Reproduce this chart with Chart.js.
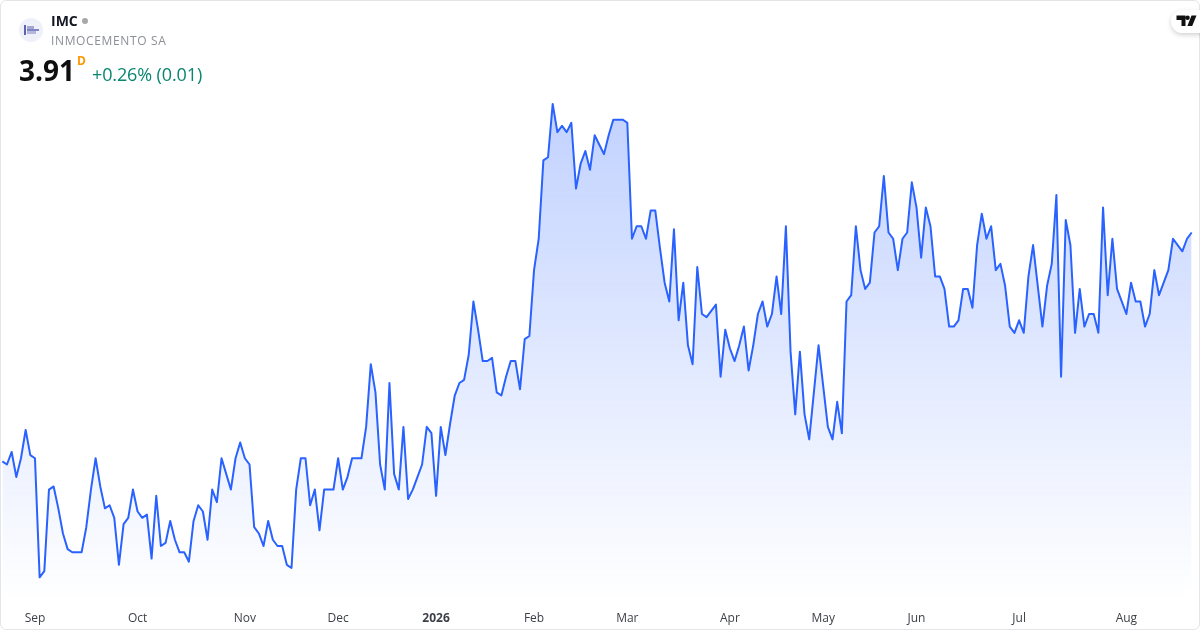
<!DOCTYPE html>
<html><head><meta charset="utf-8">
<script src="https://cdn.jsdelivr.net/npm/chart.js@4"></script>
<style>
html,body{margin:0;padding:0;background:#fff;width:1200px;height:630px;overflow:hidden;font-family:"Open Sans",sans-serif}
#wrap{position:absolute;left:0;top:0;width:1200px;height:630px}
canvas{position:absolute;left:0;top:0}
#frame{position:absolute;left:0;top:0;width:1198px;height:628px;border:1px solid #e4e5e8;border-radius:6px;pointer-events:none}
.t{position:absolute;white-space:nowrap;line-height:1}
#logo{position:absolute;left:19px;top:18px;width:24px;height:24px;border-radius:50%;background:#eef0fa}
#dot{position:absolute;left:82px;top:18px;width:6px;height:6px;border-radius:50%;background:#a8a8a8}
#tv{position:absolute;left:1171px;top:10px;width:40px;height:23px;border-radius:12px;background:#fff;box-shadow:0 2px 5px rgba(0,0,0,.18)}
</style></head><body>
<div id="wrap">
<canvas id="c" width="1200" height="630"></canvas>
<div id="frame"></div>
<div id="logo"><svg width="24" height="24"><rect x="5" y="7" width="2" height="10" fill="#5d63ad"/><rect x="8" y="8" width="7" height="4" fill="#a3a6d6"/><rect x="8" y="11" width="12" height="2" fill="#7f84c4"/><rect x="8" y="13" width="9" height="3" fill="#b5b8de"/></svg></div>
<div class="t" style="left:51px;top:14px;font-size:14px;font-weight:700;color:#131722">IMC</div>
<div id="dot"></div>
<div class="t" style="left:51px;top:35px;font-size:12px;color:#8c8f97;letter-spacing:.64px">INMOCEMENTO SA</div>
<div class="t" style="left:19px;top:56px;font-size:28px;font-weight:700;color:#0f0f0f">3.91</div>
<div class="t" style="left:77px;top:55px;font-size:12px;font-weight:700;color:#ff9800">D</div>
<div class="t" style="left:92px;top:65px;font-size:18px;letter-spacing:-.12px;color:#0a8670">+0.26% (0.01)</div>
<div id="tv"><svg width="40" height="23" style="position:absolute;left:0;top:0"><path d="M5.5 5.500h9v10.500h-4v-6h-5z M16.600 5.500a2.200 2.200 0 1 1 0 4.400 2.200 2.200 0 0 1 0-4.400z M20.500 5.500h5l-4.300 10.500h-4.800z" fill="#111"/></svg></div>
</div>
<script>
const tickLabels = ["Sep","Oct","Nov","Dec","2026","Feb","Mar","Apr","May","Jun","Jul","Aug"];
const tickIndexes = [7,29,52,72,93,114,134,156,176,196,218,241];
const closes = [
3.545,3.54,3.56,3.52,3.55,3.595,3.555,3.55,3.36,3.37,3.50,3.505,3.47,3.43,3.405,3.40,3.40,3.40,3.44,3.50,
3.55,3.505,3.47,3.475,3.455,3.38,3.445,3.455,3.50,3.465,3.455,3.46,3.39,3.49,3.41,3.415,3.45,3.42,3.40,3.40,
3.385,3.45,3.475,3.465,3.42,3.50,3.48,3.55,3.525,3.50,3.55,3.575,3.55,3.54,3.44,3.43,3.41,3.45,3.42,3.41,
3.41,3.38,3.375,3.50,3.55,3.55,3.475,3.50,3.435,3.50,3.50,3.50,3.55,3.50,3.52,3.55,3.55,3.55,3.60,3.70,
3.655,3.54,3.50,3.67,3.525,3.50,3.60,3.485,3.50,3.52,3.54,3.60,3.59,3.49,3.60,3.555,3.605,3.65,3.67,3.675,
3.715,3.80,3.755,3.705,3.705,3.71,3.655,3.65,3.68,3.705,3.705,3.66,3.74,3.745,3.85,3.90,4.025,4.03,4.115,4.07,
4.08,4.07,4.085,3.98,4.02,4.04,4.01,4.065,4.05,4.035,4.065,4.09,4.09,4.09,4.085,3.90,3.92,3.92,3.90,3.945,
3.945,3.885,3.83,3.80,3.915,3.77,3.83,3.73,3.70,3.855,3.78,3.775,3.785,3.795,3.68,3.755,3.725,3.705,3.73,3.76,
3.69,3.73,3.78,3.80,3.76,3.78,3.84,3.78,3.92,3.72,3.62,3.72,3.62,3.58,3.655,3.73,3.665,3.60,3.58,3.64,
3.59,3.80,3.81,3.92,3.85,3.82,3.83,3.91,3.92,4.00,3.91,3.90,3.85,3.90,3.91,3.99,3.95,3.87,3.95,3.92,
3.84,3.84,3.82,3.76,3.76,3.77,3.82,3.82,3.79,3.89,3.94,3.90,3.92,3.85,3.86,3.825,3.76,3.75,3.77,3.75,
3.84,3.89,3.825,3.76,3.825,3.86,3.97,3.68,3.93,3.89,3.75,3.82,3.76,3.78,3.78,3.75,3.95,3.81,3.90,3.82,
3.80,3.78,3.83,3.80,3.80,3.76,3.78,3.85,3.81,3.83,3.85,3.90,3.89,3.88,3.90,3.91
];
const categories = closes.map((_, i) => {
  const k = tickIndexes.indexOf(i);
  return k >= 0 ? tickLabels[k] : "";
});
const ctx = document.getElementById('c').getContext('2d');
const grad = ctx.createLinearGradient(0, 100, 0, 600);
grad.addColorStop(0, 'rgba(41,98,255,0.29)');
grad.addColorStop(1, 'rgba(41,98,255,0)');
new Chart(ctx, {
  type: 'line',
  data: { labels: categories, datasets: [{
    data: closes, borderColor: '#2962ff', borderWidth: 2, backgroundColor: grad,
    fill: 'start', pointRadius: 0, tension: 0, borderJoinStyle: 'round'
  }]},
  options: {
    responsive: false, animation: false, devicePixelRatio: 1,
    layout: { padding: { left: 2.33, right: 8.33, top: 0, bottom: 0 } },
    plugins: { legend: { display: false }, tooltip: { enabled: false } },
    scales: {
      y: { display: false, min: 3.3239, max: 4.2808 },
      x: {
        offset: false,
        afterFit(s) { s.height = 30; s.paddingLeft = 0; s.paddingRight = 0; },
        grid: { display: false }, border: { display: false },
        ticks: {
          autoSkip: false, maxRotation: 0, minRotation: 0, padding: 3, color: '#3c3f47',
          font: c => ({ family: '"Open Sans"', size: 12, weight: (c.tick && c.tick.label === '2026') ? '700' : '400' })
        }
      }
    }
  }
});
</script>
</body></html>
